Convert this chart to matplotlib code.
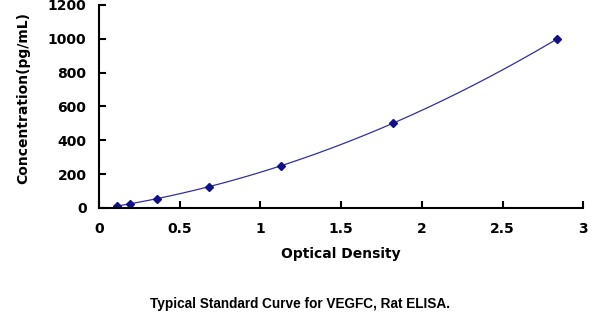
import numpy as np, matplotlib
matplotlib.use("Agg"); import matplotlib.pyplot as plt

plt.rcParams['font.family'] = ['DejaVu Sans']

# standard points
od = [0.11, 0.19, 0.36, 0.68, 1.13, 1.82, 2.84]
conc = [10, 25, 55, 125, 250, 500, 1000]
xticks = [0, 0.5, 1, 1.5, 2, 2.5, 3]
xticklabels = ['0', '0.5', '1', '1.5', '2', '2.5', '3']
yticks = [0, 200, 400, 600, 800, 1000, 1200]

navy = '#10108a'

fig = plt.figure(figsize=(6.0, 3.29), dpi=100)
ax = fig.add_axes([0.165, 0.368, 0.807, 0.617])

# fitted curve through the standards
coef = np.polyfit(od, conc, 2)
xs = np.linspace(min(od), max(od), 200)
ax.plot(xs, np.polyval(coef, xs), color='#3030a0', lw=0.9)
ax.plot(od, conc, 'D', color=navy, ms=4, mec=navy)

ax.set_xlim(0, 3); ax.set_ylim(0, 1200)
ax.set_xticks(xticks); ax.set_xticklabels(xticklabels)
ax.set_yticks(yticks)
for s in ('top', 'right'):
    ax.spines[s].set_visible(False)
for s in ('left', 'bottom'):
    ax.spines[s].set_linewidth(1.5)
ax.tick_params(direction='in', length=5, width=1.5, labelsize=10)
ax.tick_params(axis='x', pad=10)
ax.tick_params(axis='y', pad=9)
for lab in ax.get_xticklabels() + ax.get_yticklabels():
    lab.set_fontweight('bold')

ax.set_xlabel('Optical Density', fontsize=10, fontweight='bold', labelpad=8)
ax.set_ylabel('Concentration(pg/mL)', fontsize=10, fontweight='bold')
ax.yaxis.set_label_coords(-0.142, 0.54)
fig.text(0.5, 0.075, 'Typical Standard Curve for VEGFC, Rat ELISA.',
         ha='center', va='center', fontsize=9.8, fontweight='bold',
         family='Liberation Sans')

fig.savefig('out.png', dpi=100)
